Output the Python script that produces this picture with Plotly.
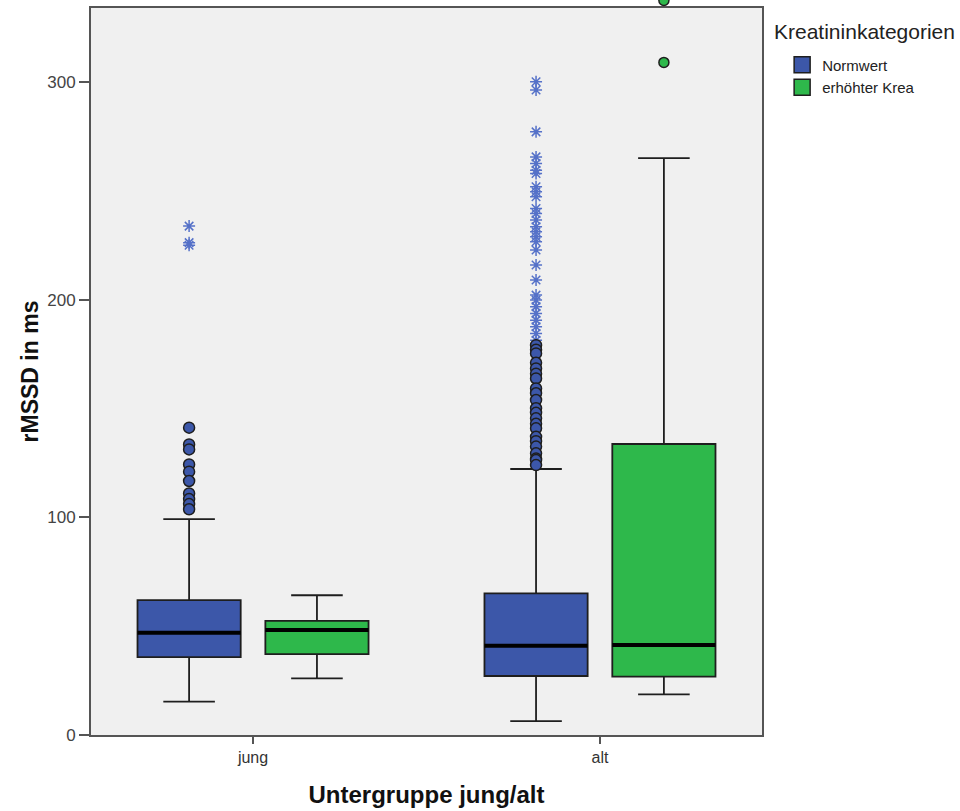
import plotly.graph_objects as go

# Categories on the x axis and the two creatinine groups
groups = ["jung", "alt"]
series_names = ["Normwert", "erhöhter Krea"]
legend_title = "Kreatininkategorien"

# Box statistics (rMSSD in ms) per group: [jung, alt]
normwert_q1 = [35.8, 27.1]
normwert_median = [47.0, 41.0]
normwert_q3 = [62.0, 65.1]
normwert_lower = [15.3, 6.4]
normwert_upper = [99.2, 122.2]

erhoeht_q1 = [37.2, 26.8]
erhoeht_median = [48.2, 41.3]
erhoeht_q3 = [52.4, 133.7]
erhoeht_lower = [26.0, 18.7]
erhoeht_upper = [64.2, 265.0]

# Outliers (circles: mild, stars: extreme)
normwert_jung_mild = [141.2, 133.5, 131.2, 124.3, 121.0, 116.7, 111.0, 108.4, 106.1, 103.7]
normwert_jung_extreme = [233.8, 226.2, 225.0]
normwert_alt_mild = [179.1, 177.0, 175.3, 171.0, 168.4, 166.0, 163.8, 159.2, 157.0, 153.9,
                     150.1, 148.0, 145.5, 143.0, 140.9, 137.0, 135.0, 132.5, 129.4, 127.0,
                     126.3, 124.0]
normwert_alt_extreme = [300.1, 296.3, 277.1, 265.6, 262.6, 259.5, 258.0, 251.9, 249.6, 247.3,
                        241.9, 239.6, 236.6, 233.5, 231.2, 228.9, 226.6, 222.8, 215.9, 209.0,
                        202.1, 199.8, 196.8, 193.7, 190.6, 187.6, 184.5, 181.4]
erhoeht_alt_mild = [309.0, 337.5]

y_ticks = [0, 100, 200, 300]
y_max = 334

BLUE = "#3C57A9"
GREEN = "#2EB84B"
STAR_BLUE = "#5571C8"
EDGE = "#1E1E1E"
FONT = "Liberation Sans, Arial, sans-serif"

# Pixel geometry of the figure
WIDTH, HEIGHT = 960, 811
M_L, M_R, M_T, M_B = 91, 198, 0, 76
PLOT_TOP_GAP = 8  # white band above the frame
plot_h = HEIGHT - M_T - M_B
y_domain_top = (plot_h - PLOT_TOP_GAP) / plot_h
# An unframed overlay axis with the same scale that also covers the band above
# the frame, so markers just beyond the top of the range still show.
y2_max = y_max / y_domain_top

BOXGAP = 0.263
BOXGROUPGAP = 0.193
group_width = 1 - BOXGAP
box_width = group_width / 2 * (1 - BOXGROUPGAP)
offsets = [-group_width / 4, group_width / 4]
cat_x = list(range(len(groups)))

fig = go.Figure()

stats = [
    (normwert_q1, normwert_median, normwert_q3, normwert_lower, normwert_upper, BLUE),
    (erhoeht_q1, erhoeht_median, erhoeht_q3, erhoeht_lower, erhoeht_upper, GREEN),
]
for name, (q1, med, q3, lo, hi, col) in zip(series_names, stats):
    fig.add_trace(go.Box(
        name=name, x=cat_x, q1=q1, median=med, q3=q3,
        lowerfence=lo, upperfence=hi, boxpoints=False,
        fillcolor=col, line=dict(color=EDGE, width=1.8),
        whiskerwidth=0.5, offsetgroup=name, hoverinfo="skip", showlegend=False,
    ))

# Thick median bars drawn on top of each box
mx, my = [], []
for off, med in zip(offsets, [normwert_median, erhoeht_median]):
    for cx, m in zip(cat_x, med):
        mx += [cx + off - box_width / 2, cx + off + box_width / 2, None]
        my += [m, m, None]
fig.add_trace(go.Scatter(x=mx, y=my, mode="lines", line=dict(color="black", width=4),
                         showlegend=False, hoverinfo="skip"))


def outliers(cat, off, values, symbol, color, size, line_col, line_w, yaxis="y"):
    fig.add_trace(go.Scatter(
        x=[cat_x[groups.index(cat)] + off] * len(values), y=values, mode="markers",
        marker=dict(symbol=symbol, size=size, color=color,
                    line=dict(color=line_col, width=line_w)),
        showlegend=False, hoverinfo="skip", yaxis=yaxis,
        cliponaxis=(yaxis == "y"),
    ))


outliers("jung", offsets[0], normwert_jung_extreme, "asterisk-open", STAR_BLUE, 10, STAR_BLUE, 1.5)
outliers("alt", offsets[0], normwert_alt_extreme, "asterisk-open", STAR_BLUE, 10, STAR_BLUE, 1.5)
outliers("jung", offsets[0], normwert_jung_mild, "circle", BLUE, 11, EDGE, 1.5)
outliers("alt", offsets[0], normwert_alt_mild, "circle", BLUE, 11, EDGE, 1.5)
outliers("alt", offsets[1], erhoeht_alt_mild, "circle", GREEN, 10, EDGE, 1.5, yaxis="y2")

# Square legend keys for the two categories
for name, col in zip(series_names, [BLUE, GREEN]):
    fig.add_trace(go.Scatter(
        x=[None], y=[None], mode="markers", name=name,
        marker=dict(symbol="square", size=16, color=col, line=dict(color=EDGE, width=1.5)),
    ))

axis_col = "#555555"
fig.update_layout(
    width=WIDTH, height=HEIGHT,
    margin=dict(l=M_L, r=M_R, t=M_T, b=M_B),
    paper_bgcolor="white", plot_bgcolor="rgba(0,0,0,0)",
    boxmode="group", boxgap=BOXGAP, boxgroupgap=BOXGROUPGAP,
    font=dict(family=FONT, color="#333333"),
    showlegend=True,
    legend=dict(
        x=1.03, xanchor="left", y=0.934, yanchor="top",
        font=dict(size=15, color="#222222"), bgcolor="rgba(0,0,0,0)",
        tracegroupgap=0, itemsizing="trace", itemwidth=30,
    ),
    annotations=[dict(
        text=legend_title, xref="paper", yref="paper",
        x=1.015, xanchor="left", y=0.9755, yanchor="top", showarrow=False,
        font=dict(size=21, color="#222222", family=FONT),
    )],
    shapes=[dict(
        type="rect", xref="x domain", yref="y domain", x0=0, x1=1, y0=0, y1=1,
        fillcolor="#F0F0F0", line=dict(width=0), layer="below",
    )],
    xaxis=dict(
        range=[-0.467, 1.467], tickmode="array", tickvals=cat_x, ticktext=groups,
        showgrid=False, zeroline=False, showline=True, linecolor=axis_col, linewidth=2,
        mirror=True, ticks="outside", ticklen=7, tickcolor=axis_col, tickwidth=2,
        tickfont=dict(size=16, color="#333333"),
        title=dict(text="<b>Untergruppe jung/alt</b>", font=dict(size=24, color="#111111"),
                   standoff=21),
    ),
    yaxis=dict(
        range=[0, y_max], domain=[0, y_domain_top], tickmode="array", tickvals=y_ticks,
        showgrid=False, zeroline=False, showline=True, linecolor=axis_col, linewidth=2,
        mirror=True, ticks="outside", ticklen=10, tickcolor=axis_col, tickwidth=2,
        tickfont=dict(size=17, color="#444444"),
        title=dict(text="<b>rMSSD in ms</b>", font=dict(size=23, color="#111111"),
                   standoff=2),
    ),
    yaxis2=dict(
        range=[0, y2_max], domain=[0, 1], anchor="x", visible=False,
        showgrid=False, zeroline=False,
    ),
)

fig.write_html("out.html")
